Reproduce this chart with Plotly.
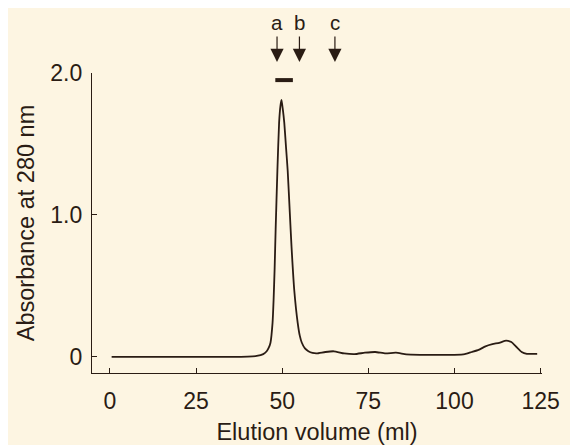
import plotly.graph_objects as go

# Elution profile (ml, absorbance at 280 nm)
volume_ml = [0.5, 10, 20, 30, 40, 42.6, 44.5, 45.5, 46.1, 46.6, 47.2, 47.5, 47.8, 48.1, 48.6, 49.1,
             49.5, 49.8, 50.2, 50.6, 51.1, 51.6, 52.2, 52.7, 53.5, 54.5, 55.1, 55.7, 56.6, 57.6, 58.8,
             60, 62.5, 65, 68, 71, 74, 77, 80, 83, 86, 90, 95, 100, 103, 105, 107, 109, 111, 113, 115,
             116.5, 118, 119.5, 121, 124]
absorbance = [0.0, 0.0, 0.0, 0.0, 0.002, 0.007, 0.02, 0.04, 0.065, 0.10, 0.24, 0.40, 0.62, 0.90, 1.31,
              1.65, 1.77, 1.81, 1.74, 1.65, 1.48, 1.31, 1.02, 0.78, 0.47, 0.24, 0.15, 0.10, 0.06, 0.04,
              0.028, 0.025, 0.035, 0.04, 0.025, 0.02, 0.03, 0.035, 0.025, 0.03, 0.018, 0.015, 0.015,
              0.015, 0.02, 0.035, 0.05, 0.075, 0.09, 0.10, 0.115, 0.105, 0.07, 0.035, 0.022, 0.022]

marker_labels = ["a", "b", "c"]
marker_positions = [48.5, 55.0, 65.3]
fraction_range = [48.0, 53.1]
fraction_level = 1.95

x_ticks = [0, 25, 50, 75, 100, 125]
y_ticks = [0, 1.0, 2.0]
y_tick_text = ["0", "1.0", "2.0"]

ink = "#2a1c14"
bg = "#fdf5e2"
font_family = "Liberation Sans"
tick_size = 23
title_size = 23.5
marker_size = 20.5

fig = go.Figure()
fig.add_trace(go.Scatter(x=volume_ml, y=absorbance, mode="lines",
                         line=dict(color=ink, width=1.8, shape="spline", smoothing=0.5),
                         showlegend=False, hoverinfo="skip"))

fig.add_shape(type="line", xref="x", yref="y",
              x0=fraction_range[0], x1=fraction_range[1], y0=fraction_level, y1=fraction_level,
              line=dict(color=ink, width=4))

for lab, pos in zip(marker_labels, marker_positions):
    fig.add_annotation(x=pos, y=1.037, xref="x", yref="paper", text="", showarrow=True,
                       ax=0, ay=-27, arrowhead=2, arrowsize=2.2, arrowwidth=1.2, arrowcolor=ink)
    fig.add_annotation(x=pos, y=1.168, xref="x", yref="paper", text=lab, showarrow=False,
                       font=dict(family=font_family, size=marker_size, color=ink), yanchor="middle")

fig.update_layout(
    width=570, height=437,
    margin=dict(l=84, r=36, t=65, b=72),
    paper_bgcolor=bg, plot_bgcolor=bg,
    font=dict(family=font_family, size=tick_size, color=ink),
    xaxis=dict(range=[-5.2, 125.4], tickvals=x_ticks, ticks="inside", ticklen=5, tickwidth=1,
               tickcolor=ink, showline=True, linecolor=ink, linewidth=1.2, showgrid=False,
               zeroline=False, ticklabelstandoff=7, automargin=False,
               title=dict(text="Elution volume (ml)", standoff=10,
                          font=dict(family=font_family, size=title_size, color=ink))),
    yaxis=dict(range=[-0.113, 2.0], tickvals=y_ticks, ticktext=y_tick_text, ticks="inside",
               ticklen=5, tickwidth=1, tickcolor=ink, showline=True, linecolor=ink, linewidth=1.2,
               showgrid=False, zeroline=False, ticklabelstandoff=4, automargin=False,
               title=dict(text="Absorbance at 280 nm", standoff=9,
                          font=dict(family=font_family, size=title_size, color=ink))),
)

fig.write_html("out.html")
